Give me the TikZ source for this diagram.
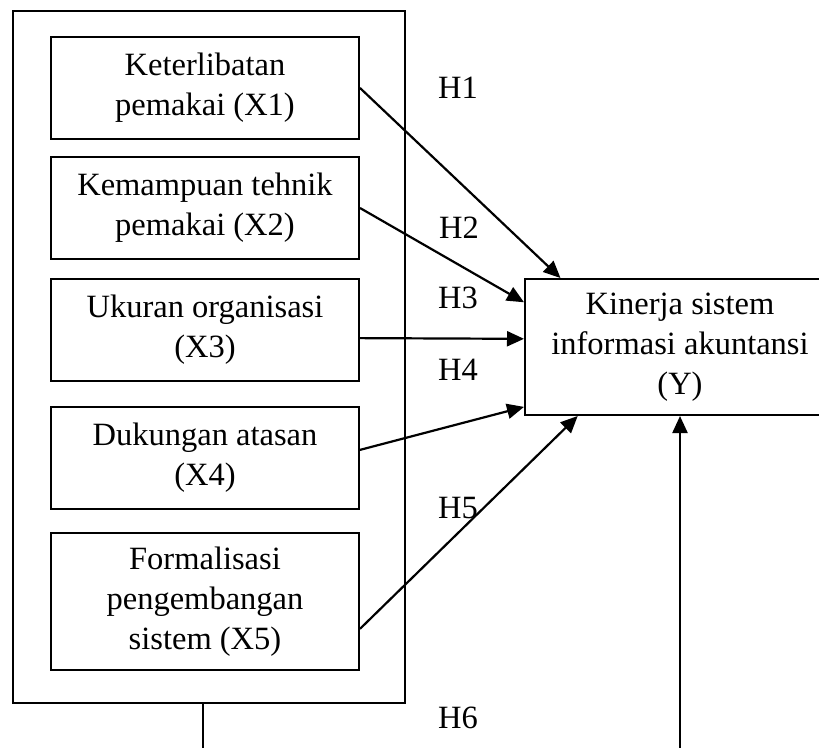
\documentclass[tikz,border=0pt]{standalone}
\usepackage{fontspec}
\setmainfont{Liberation Serif}
\usetikzlibrary{arrows.meta}
\begin{document}
\begin{tikzpicture}[x=1pt,y=-1pt,
    box/.style={draw=black, line width=2pt, minimum width=308pt, minimum height=102pt, align=center, inner sep=0pt},
    arr/.style={line width=2.2pt, -{Triangle[length=17pt,width=15pt]}},
    every node/.style={font=\fontsize{32.5}{40}\selectfont}]
    \useasboundingbox (0,0) rectangle (819,747);

    \node[draw=black, line width=2pt, minimum width=392pt, minimum height=692pt] (outer) at (209,357) {};
    \node[box] (x1) at (205,88) {Keterlibatan\\pemakai (X1)};
    \node[box] (x2) at (205,208) {Kemampuan tehnik\\pemakai (X2)};
    \node[box] (x3) at (205,330) {Ukuran organisasi\\(X3)};
    \node[box] (x4) at (205,458) {Dukungan atasan\\(X4)};
    \node[box, minimum height=137pt] (x5) at (205,601.5) {Formalisasi\\pengembangan\\sistem (X5)};
    \node[box, minimum width=310pt, minimum height=136pt] (y) at (680,347) {Kinerja sistem\\informasi akuntansi\\(Y)};

    \draw[arr] (x1.east) -- (y.150);
    \draw[arr] (x2.east) -- (y.164);
    \draw[arr] (x3.-3) -- (y.177);
    \draw[arr] (x4.3) -- (y.201);
    \draw[arr] (x5.-10) -- (y.214);
    \draw[arr] (outer.-91) -- ++(0,80) -| (y.south);

    \node (h1) at (458,88) {H1};
    \node (h2) at (459,228) {H2};
    \node (h3) at (458,298) {H3};
    \node (h4) at (458,370) {H4};
    \node (h5) at (458,508) {H5};
    \node (h6) at (458,718) {H6};

\end{tikzpicture}
\end{document}
